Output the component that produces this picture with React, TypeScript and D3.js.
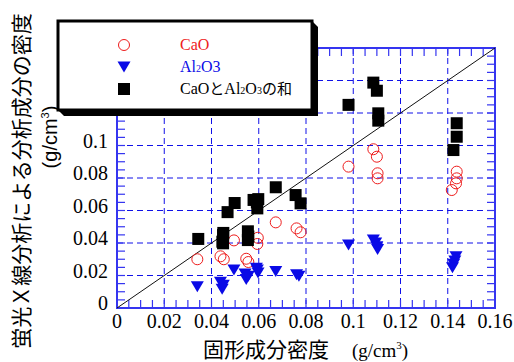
import React from "react";
import * as d3 from "d3";

// Solid-component density (g/cm3) vs. XRF-measured density of CaO, Al2O3 and their sum
const caoX = [0.034, 0.0438, 0.0452, 0.0495, 0.0547, 0.0556, 0.0596, 0.0594, 0.0672, 0.076, 0.0777, 0.098, 0.1085, 0.11, 0.1103, 0.1103, 0.1438, 0.1438, 0.1435, 0.1417];
const caoY = [0.03, 0.0318, 0.03, 0.0416, 0.0303, 0.0283, 0.0432, 0.0394, 0.0527, 0.049, 0.0466, 0.087, 0.0977, 0.0931, 0.0829, 0.0798, 0.0839, 0.0798, 0.0767, 0.0726];

const alX = [0.034, 0.0438, 0.0445, 0.045, 0.0495, 0.0542, 0.0547, 0.0556, 0.059, 0.0597, 0.0594, 0.0672, 0.076, 0.077, 0.098, 0.1085, 0.1095, 0.11, 0.1103, 0.1435, 0.143, 0.1425, 0.142];
const alY = [0.0131, 0.0158, 0.0115, 0.014, 0.0234, 0.021, 0.0175, 0.0195, 0.0244, 0.0215, 0.0234, 0.0224, 0.0205, 0.0195, 0.0388, 0.0418, 0.04, 0.0377, 0.036, 0.0316, 0.029, 0.027, 0.0248];

const sumX = [0.0344, 0.045, 0.0449, 0.0446, 0.0449, 0.0468, 0.0498, 0.0554, 0.0556, 0.0554, 0.0578, 0.0598, 0.0592, 0.0594, 0.0672, 0.0756, 0.0777, 0.098, 0.1085, 0.11, 0.1106, 0.1106, 0.1438, 0.1438, 0.1424];
const sumY = [0.0425, 0.0462, 0.0449, 0.0408, 0.0398, 0.059, 0.0646, 0.0472, 0.044, 0.0418, 0.0665, 0.067, 0.065, 0.0613, 0.0743, 0.0695, 0.0644, 0.125, 0.1387, 0.1337, 0.1198, 0.1153, 0.1137, 0.1054, 0.0972];

const xTickLabels = ["0", "0.02", "0.04", "0.06", "0.08", "0.1", "0.12", "0.14", "0.16"];
const yTickLabels = ["0", "0.02", "0.04", "0.06", "0.08", "0.1", "0.12", "0.14"];

const W = 514;
const H = 362;
const L = 117, R = 495, T = 48, B = 308;

const AXIS = "#3535f0";
const GRID = "#1010e8";
const RED = "#ee1c1c";
const BLUE = "#0a0ae6";

export default function App() {
  const x = d3.scaleLinear().domain([0, 0.16]).range([L, R]);
  const y = d3.scaleLinear().domain([0, 0.16]).range([B, T]);

  const majors = d3.range(0, 0.1601, 0.02);
  const minors = d3.range(0, 0.1601, 0.005);
  const gridVals = majors.filter((v) => v > 0.001 && v < 0.159);
  const tickLen = 8;

  const tri = (cx: number, cy: number) => {
    const w = 6.5, h = 5.5;
    return `M${cx - w},${cy - h}L${cx + w},${cy - h}L${cx},${cy + h}Z`;
  };

  const serif = "'Liberation Serif', 'Times New Roman', serif";
  const jp = "'Noto Sans CJK JP', 'Noto Sans', sans-serif";

  // legend box geometry
  const lx = 58, ly = 21, lw = 254, lh = 89, sh = 6;

  return (
    <svg width={W} height={H} style={{ position: "absolute", left: 0, top: 0, background: "#fff" }}>
      {/* dashed grid */}
      {gridVals.map((v, i) => (
        <line key={"gx" + i} x1={x(v)} x2={x(v)} y1={T} y2={B} stroke={GRID} strokeWidth={1} strokeDasharray="6,4" />
      ))}
      {gridVals.map((v, i) => (
        <line key={"gy" + i} x1={L} x2={R} y1={y(v)} y2={y(v)} stroke={GRID} strokeWidth={1} strokeDasharray="6,4" />
      ))}

      {/* inward ticks on all four sides */}
      {minors.map((v, i) => (
        <g key={"t" + i} stroke={AXIS} strokeWidth={1.2}>
          <line x1={x(v)} x2={x(v)} y1={B} y2={B - tickLen} />
          <line x1={x(v)} x2={x(v)} y1={T} y2={T + tickLen} />
          <line x1={L} x2={L + tickLen} y1={y(v)} y2={y(v)} />
          <line x1={R} x2={R - tickLen} y1={y(v)} y2={y(v)} />
        </g>
      ))}

      {/* frame */}
      <rect x={L} y={T} width={R - L} height={B - T} fill="none" stroke={AXIS} strokeWidth={2} />

      {/* 1:1 line */}
      <line x1={x(0)} y1={y(0)} x2={x(0.16)} y2={y(0.16)} stroke="#111" strokeWidth={1} />

      {/* CaO */}
      {caoX.map((v, i) => (
        <circle key={"c" + i} cx={x(v)} cy={y(caoY[i])} r={5.5} fill="none" stroke={RED} strokeWidth={1} />
      ))}
      {/* Al2O3 */}
      {alX.map((v, i) => (
        <path key={"a" + i} d={tri(x(v), y(alY[i]))} fill={BLUE} />
      ))}
      {/* Sum */}
      {sumX.map((v, i) => (
        <rect key={"s" + i} x={x(v) - 6} y={y(sumY[i]) - 6} width={12} height={12} fill="#000" />
      ))}

      {/* tick labels */}
      {xTickLabels.map((t, i) => (
        <text key={"xl" + i} x={x(majors[i])} y={328} textAnchor="middle" fontFamily={serif} fontSize={20} fill="#000">
          {t}
        </text>
      ))}
      {yTickLabels.map((t, i) => (
        <text key={"yl" + i} x={108} y={y(majors[i]) + 2} textAnchor="end" fontFamily={serif} fontSize={20} fill="#000">
          {t}
        </text>
      ))}

      {/* axis titles */}
      <text x={203} y={357} fontFamily={jp} fontSize={21} fill="#000">固形成分密度</text>
      <text x={352} y={357} fontFamily={serif} fontSize={19} fill="#000">
        (g/cm<tspan fontSize={11} dy={-8}>3</tspan><tspan dy={8}>)</tspan>
      </text>
      <text transform="translate(29,181) rotate(-90)" textAnchor="middle" fontFamily={jp} fontSize={21} fill="#000">
        蛍光Ｘ線分析による分析成分の密度
      </text>
      <text transform="translate(57,137) rotate(-90)" textAnchor="middle" fontFamily="'Liberation Sans', Arial, sans-serif" fontSize={20} fill="#000">
        (g/cm<tspan fontSize={11} dy={-8}>3</tspan><tspan dy={8}>)</tspan>
      </text>

      {/* legend */}
      <path
        d={`M${lx},${ly + lh}L${lx + sh},${ly + lh + sh}L${lx + lw + sh},${ly + lh + sh}L${lx + lw + sh},${ly + sh}L${lx + lw},${ly}Z`}
        fill="#000"
      />
      <rect x={lx} y={ly} width={lw} height={lh} fill="#fff" stroke="#000" strokeWidth={3} />
      <circle cx={124} cy={45} r={5.5} fill="none" stroke={RED} strokeWidth={1} />
      <path d={tri(124, 67)} fill={BLUE} />
      <rect x={118} y={83} width={12} height={12} fill="#000" />
      <text x={180} y={50} fontFamily={serif} fontSize={16} fill={RED}>CaO</text>
      <text x={180} y={72} fontFamily={serif} fontSize={16} fill={BLUE}>
        Al<tspan fontSize={10}>2</tspan>O3
      </text>
      <text x={180} y={94} fontFamily={serif} fontSize={16} fill="#000">
        CaO<tspan fontFamily={jp} fontSize={15}>と</tspan>Al<tspan fontSize={10}>2</tspan>O<tspan fontSize={10}>3</tspan>
        <tspan fontFamily={jp} fontSize={15}>の和</tspan>
      </text>
    </svg>
  );
}
